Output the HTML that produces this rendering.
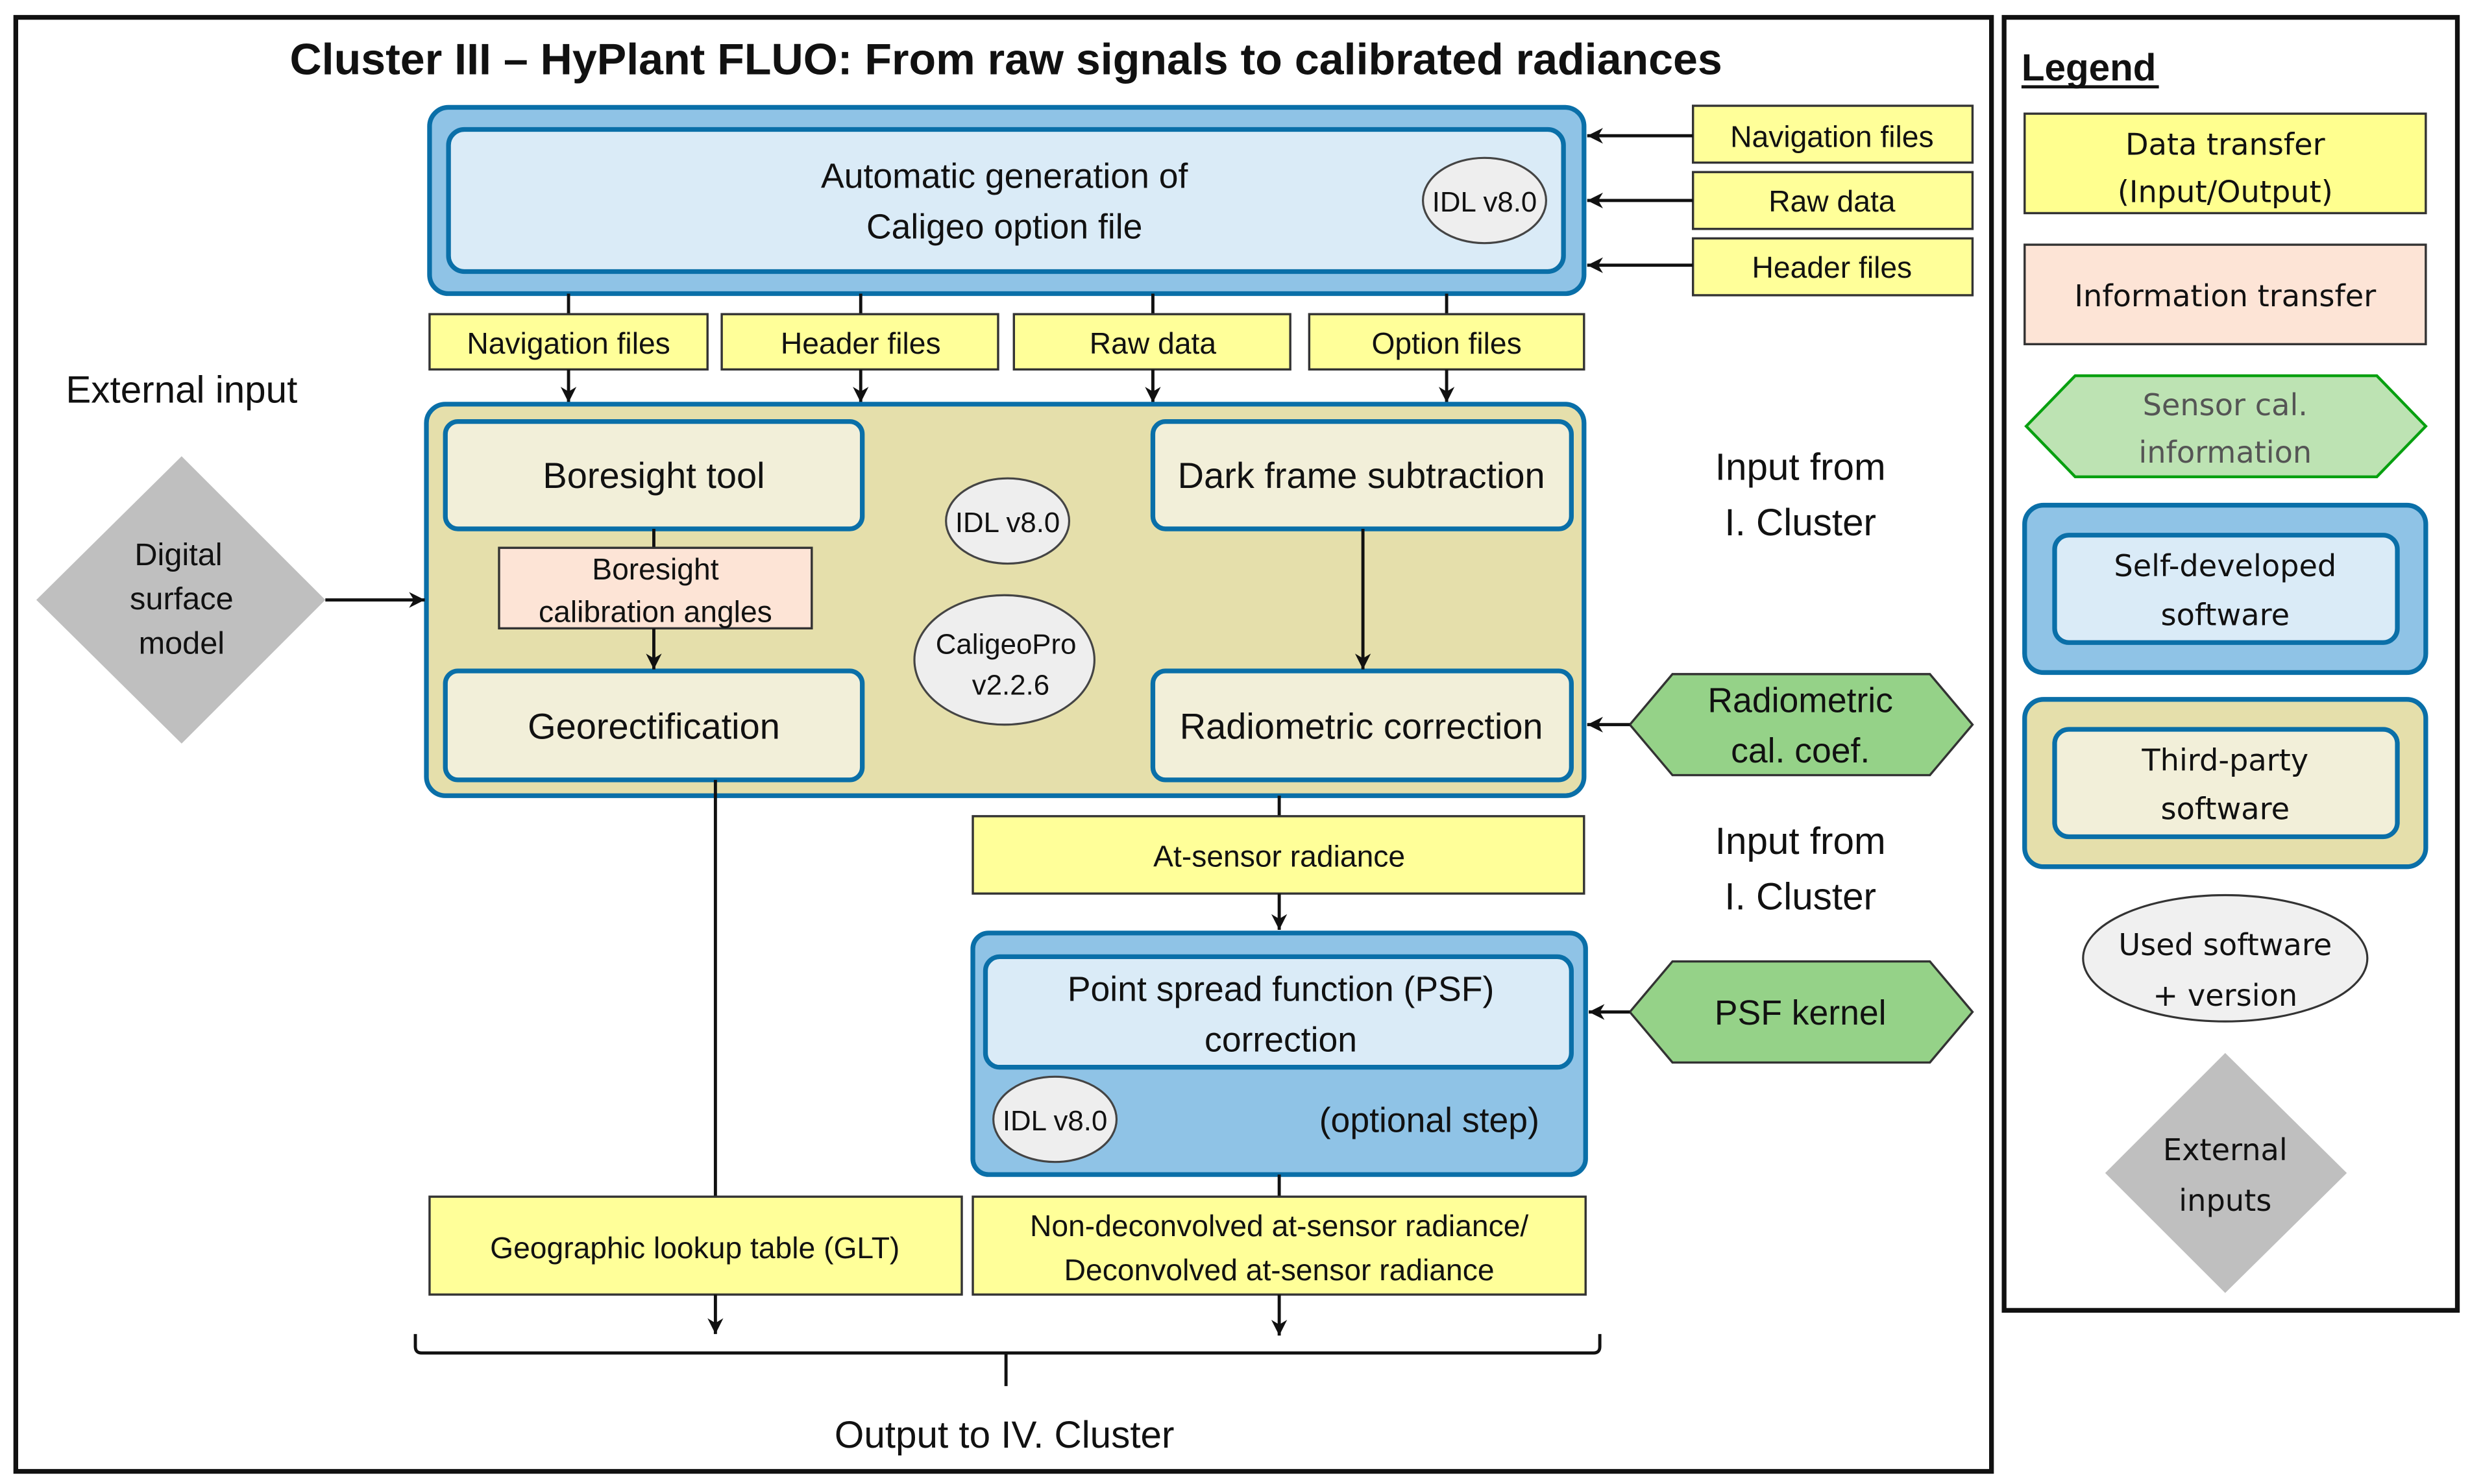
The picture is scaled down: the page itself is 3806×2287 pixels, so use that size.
<!DOCTYPE html>
<html><head><meta charset="utf-8"><style>
html,body{margin:0;padding:0;background:#fff}
svg{display:block}
.c{font-family:"Liberation Sans Narrow","Liberation Sans",sans-serif;text-anchor:middle;fill:#111}
.d{font-family:"DejaVu Sans","Liberation Sans",sans-serif;text-anchor:middle;fill:#111}
</style></head><body>
<svg width="3806" height="2287" viewBox="0 0 1564 940" preserveAspectRatio="none" xmlns="http://www.w3.org/2000/svg">
<defs>
<marker id="a" viewBox="0 0 12 12" refX="11" refY="6" markerWidth="12" markerHeight="12" markerUnits="userSpaceOnUse" orient="auto">
<path d="M1,1 L11,6 L1,11 L4,6 Z" fill="#111"/>
</marker>
</defs>
<g stroke="#111" stroke-width="1.6" fill="none">
<rect x="10" y="11" width="1251" height="921" stroke-width="3"/>
<rect x="1269" y="11" width="287" height="819" stroke-width="3"/>
</g>
<text x="637" y="47" class="c" font-size="28" font-weight="bold">Cluster III – HyPlant FLUO: From raw signals to calibrated radiances</text>

<!-- top blue -->
<rect x="272" y="68" width="731" height="118" rx="12" fill="#8fc3e6" stroke="#0a6fa8" stroke-width="3"/>
<rect x="284" y="82" width="706" height="90" rx="10" fill="#daebf7" stroke="#0a6fa8" stroke-width="3"/>
<text x="636" y="119" class="c" font-size="22">Automatic generation of</text>
<text x="636" y="151" class="c" font-size="22">Caligeo option file</text>
<ellipse cx="940" cy="127" rx="39" ry="27" fill="#eeeeee" stroke="#444" stroke-width="1.3"/>
<text x="940" y="134" class="c" font-size="18">IDL v8.0</text>

<!-- right inputs -->
<g fill="#ffff99" stroke="#333" stroke-width="1.4">
<rect x="1072" y="67" width="177" height="36"/>
<rect x="1072" y="109" width="177" height="36"/>
<rect x="1072" y="151" width="177" height="36"/>
</g>
<text x="1160" y="93" class="c" font-size="19">Navigation files</text>
<text x="1160" y="134" class="c" font-size="19">Raw data</text>
<text x="1160" y="176" class="c" font-size="19">Header files</text>
<g stroke="#111" stroke-width="2" marker-end="url(#a)">
<line x1="1072" y1="86" x2="1005" y2="86"/>
<line x1="1072" y1="127" x2="1005" y2="127"/>
<line x1="1072" y1="168" x2="1005" y2="168"/>
</g>

<!-- row of yellow -->
<g stroke="#111" stroke-width="2">
<line x1="360" y1="186" x2="360" y2="199"/><line x1="545" y1="186" x2="545" y2="199"/>
<line x1="730" y1="186" x2="730" y2="199"/><line x1="916" y1="186" x2="916" y2="199"/>
</g>
<g fill="#ffff99" stroke="#333" stroke-width="1.4">
<rect x="272" y="199" width="176" height="35"/>
<rect x="457" y="199" width="175" height="35"/>
<rect x="642" y="199" width="175" height="35"/>
<rect x="829" y="199" width="174" height="35"/>
</g>
<text x="360" y="224" class="c" font-size="19">Navigation files</text>
<text x="545" y="224" class="c" font-size="19">Header files</text>
<text x="730" y="224" class="c" font-size="19">Raw data</text>
<text x="916" y="224" class="c" font-size="19">Option files</text>
<g stroke="#111" stroke-width="2" marker-end="url(#a)">
<line x1="360" y1="234" x2="360" y2="255"/><line x1="545" y1="234" x2="545" y2="255"/>
<line x1="730" y1="234" x2="730" y2="255"/><line x1="916" y1="234" x2="916" y2="255"/>
</g>

<!-- tan box -->
<rect x="270" y="256" width="733" height="248" rx="12" fill="#e5dfab" stroke="#0a6fa8" stroke-width="3"/>
<g fill="#f2efd9" stroke="#0a6fa8" stroke-width="3">
<rect x="282" y="267" width="264" height="68" rx="8"/>
<rect x="730" y="267" width="265" height="68" rx="8"/>
<rect x="282" y="425" width="264" height="69" rx="8"/>
<rect x="730" y="425" width="265" height="69" rx="8"/>
</g>
<text x="414" y="309" class="c" font-size="23">Boresight tool</text>
<text x="862" y="309" class="c" font-size="23">Dark frame subtraction</text>
<text x="414" y="468" class="c" font-size="23">Georectification</text>
<text x="862" y="468" class="c" font-size="23">Radiometric correction</text>
<line x1="414" y1="335" x2="414" y2="347" stroke="#111" stroke-width="2"/>
<rect x="316" y="347" width="198" height="51" fill="#fde4d6" stroke="#333" stroke-width="1.4"/>
<text x="415" y="367" class="c" font-size="19">Boresight</text>
<text x="415" y="394" class="c" font-size="19">calibration angles</text>
<line x1="414" y1="398" x2="414" y2="424" stroke="#111" stroke-width="2" marker-end="url(#a)"/>
<line x1="863" y1="335" x2="863" y2="424" stroke="#111" stroke-width="2" marker-end="url(#a)"/>
<ellipse cx="638" cy="330" rx="39" ry="27" fill="#eeeeee" stroke="#444" stroke-width="1.3"/>
<text x="638" y="337" class="c" font-size="18">IDL v8.0</text>
<ellipse cx="636" cy="418" rx="57" ry="41" fill="#eeeeee" stroke="#444" stroke-width="1.3"/>
<text x="637" y="414" class="c" font-size="18">CaligeoPro</text>
<text x="640" y="440" class="c" font-size="18">v2.2.6</text>

<!-- external input -->
<text x="115" y="255" class="c" font-size="24">External input</text>
<polygon points="115,289 206,380 115,471 23,380" fill="#bfbfbf"/>
<text x="113" y="358" class="c" font-size="20">Digital</text>
<text x="115" y="386" class="c" font-size="20">surface</text>
<text x="115" y="414" class="c" font-size="20">model</text>
<line x1="206" y1="380" x2="269" y2="380" stroke="#111" stroke-width="2" marker-end="url(#a)"/>

<text x="1140" y="304" class="c" font-size="24">Input from</text>
<text x="1140" y="339" class="c" font-size="24">I. Cluster</text>
<text x="1140" y="541" class="c" font-size="24">Input from</text>
<text x="1140" y="576" class="c" font-size="24">I. Cluster</text>

<polygon points="1032,459 1059,427 1222,427 1249,459 1222,491 1059,491" fill="#95d288" stroke="#333" stroke-width="1.4"/>
<text x="1140" y="451" class="c" font-size="22">Radiometric</text>
<text x="1140" y="483" class="c" font-size="22">cal. coef.</text>
<line x1="1032" y1="459" x2="1005" y2="459" stroke="#111" stroke-width="2" marker-end="url(#a)"/>

<!-- at-sensor -->
<line x1="810" y1="504" x2="810" y2="517" stroke="#111" stroke-width="2"/>
<rect x="616" y="517" width="387" height="49" fill="#ffff99" stroke="#333" stroke-width="1.4"/>
<text x="810" y="549" class="c" font-size="19">At-sensor radiance</text>
<line x1="810" y1="566" x2="810" y2="589" stroke="#111" stroke-width="2" marker-end="url(#a)"/>

<!-- PSF -->
<rect x="616" y="591" width="388" height="153" rx="10" fill="#8fc3e6" stroke="#0a6fa8" stroke-width="3"/>
<rect x="624" y="606" width="371" height="70" rx="9" fill="#daebf7" stroke="#0a6fa8" stroke-width="3"/>
<text x="811" y="634" class="c" font-size="22">Point spread function (PSF)</text>
<text x="811" y="666" class="c" font-size="22">correction</text>
<ellipse cx="668" cy="709" rx="39" ry="27" fill="#eeeeee" stroke="#444" stroke-width="1.3"/>
<text x="668" y="716" class="c" font-size="18">IDL v8.0</text>
<text x="905" y="717" class="c" font-size="22">(optional step)</text>
<polygon points="1032,641 1059,609 1222,609 1249,641 1222,673 1059,673" fill="#95d288" stroke="#333" stroke-width="1.4"/>
<text x="1140" y="649" class="c" font-size="22">PSF kernel</text>
<line x1="1032" y1="641" x2="1006" y2="641" stroke="#111" stroke-width="2" marker-end="url(#a)"/>

<!-- outputs -->
<line x1="453" y1="494" x2="453" y2="758" stroke="#111" stroke-width="2"/>
<line x1="810" y1="744" x2="810" y2="758" stroke="#111" stroke-width="2"/>
<rect x="272" y="758" width="337" height="62" fill="#ffff99" stroke="#333" stroke-width="1.4"/>
<text x="440" y="797" class="c" font-size="19">Geographic lookup table (GLT)</text>
<rect x="616" y="758" width="388" height="62" fill="#ffff99" stroke="#333" stroke-width="1.4"/>
<text x="810" y="783" class="c" font-size="19">Non-deconvolved at-sensor radiance/</text>
<text x="810" y="811" class="c" font-size="19">Deconvolved at-sensor radiance</text>
<g stroke="#111" stroke-width="2" marker-end="url(#a)">
<line x1="453" y1="820" x2="453" y2="845"/>
<line x1="810" y1="820" x2="810" y2="846"/>
</g>
<path d="M263,845 V853 Q263,857 267,857 H1009 Q1013,857 1013,853 V845 M637,857 V878" stroke="#111" stroke-width="2" fill="none"/>
<text x="636" y="917" class="c" font-size="24">Output to IV. Cluster</text>

<!-- legend -->
<text x="1280" y="51" class="c" font-size="24" font-weight="bold" text-anchor="start" style="text-anchor:start">Legend</text>
<line x1="1280" y1="55" x2="1367" y2="55" stroke="#111" stroke-width="2"/>
<rect x="1282" y="72" width="254" height="63" fill="#ffff8f" stroke="#333" stroke-width="1.4"/>
<text x="1409" y="98" class="d" font-size="19">Data transfer</text>
<text x="1409" y="128" class="d" font-size="19">(Input/Output)</text>
<rect x="1282" y="155" width="254" height="63" fill="#fde4d6" stroke="#333" stroke-width="1.4"/>
<text x="1409" y="194" class="d" font-size="19">Information transfer</text>
<polygon points="1283,270 1314,238 1505,238 1536,270 1505,302 1314,302" fill="#bde3b3" stroke="#08a010" stroke-width="1.8"/>
<text x="1409" y="263" class="d" font-size="19" style="fill:#555">Sensor cal.</text>
<text x="1409" y="293" class="d" font-size="19" style="fill:#555">information</text>
<rect x="1282" y="320" width="254" height="106" rx="12" fill="#8fc3e6" stroke="#0a6fa8" stroke-width="3"/>
<rect x="1301" y="339" width="217" height="68" rx="9" fill="#daebf7" stroke="#0a6fa8" stroke-width="3"/>
<text x="1409" y="365" class="d" font-size="19">Self-developed</text>
<text x="1409" y="396" class="d" font-size="19">software</text>
<rect x="1282" y="443" width="254" height="106" rx="12" fill="#e5dfab" stroke="#0a6fa8" stroke-width="3"/>
<rect x="1301" y="462" width="217" height="68" rx="9" fill="#f2efd9" stroke="#0a6fa8" stroke-width="3"/>
<text x="1409" y="488" class="d" font-size="19">Third-party</text>
<text x="1409" y="519" class="d" font-size="19">software</text>
<ellipse cx="1409" cy="607" rx="90" ry="40" fill="#f0f0f0" stroke="#333" stroke-width="1.3"/>
<text x="1409" y="605" class="d" font-size="19">Used software</text>
<text x="1409" y="637" class="d" font-size="19">+ version</text>
<polygon points="1409,667 1486,743 1409,819 1333,743" fill="#bfbfbf"/>
<text x="1409" y="735" class="d" font-size="19">External</text>
<text x="1409" y="767" class="d" font-size="19">inputs</text>
</svg>
</body></html>
